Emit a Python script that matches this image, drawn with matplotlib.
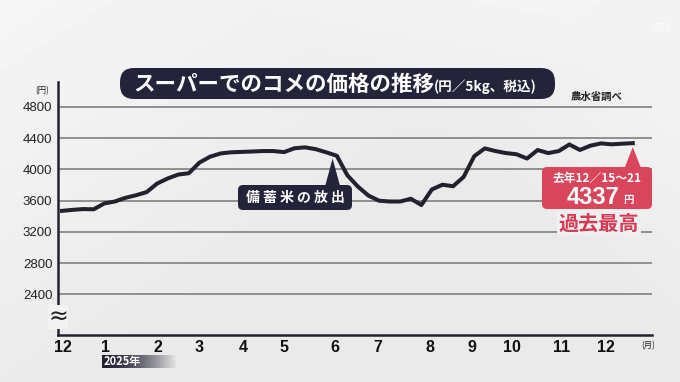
import numpy as np
import matplotlib.pyplot as plt
from matplotlib.patches import FancyBboxPatch, Polygon

plt.rcParams['font.family'] = ['Noto Sans CJK JP', 'DejaVu Sans']

# weekly supermarket rice price (yen / 5kg), Dec 2024 -> Dec 15-21 2025
weeks = list(range(55))
price = [3470, 3483, 3493, 3490, 3565, 3590, 3637, 3670, 3710, 3820,
         3885, 3935, 3952, 4088, 4163, 4205, 4220, 4225, 4230, 4236,
         4236, 4222, 4272, 4283, 4260, 4220, 4175, 3925, 3780, 3665,
         3600, 3590, 3590, 3625, 3545, 3745, 3805, 3785, 3905, 4170,
         4270, 4236, 4210, 4195, 4140, 4249, 4210, 4236, 4320, 4250,
         4305, 4334, 4322, 4330, 4337]
yticks = [2400, 2800, 3200, 3600, 4000, 4400, 4800]
month_labels = ['12', '1', '2', '3', '4', '5', '6', '7', '8', '9', '10', '11', '12']
month_pos = [0.1, 4.15, 9.1, 13.0, 17.1, 21.0, 25.8, 29.9, 34.8, 38.8, 42.6, 47.3, 51.5]
release_week = 25.6
last_week = weeks[-1]

W, H = 680, 382
fig = plt.figure(figsize=(W / 100, H / 100), dpi=100)

# light grey studio background
bg = fig.add_axes([0, 0, 1, 1], zorder=-10)
yy, xx = np.mgrid[0:H, 0:W]
shade = 0.915 + 0.05 * np.clip(1 - (xx + 1.6 * yy) / 700, 0, 1) \
        + 0.035 * np.clip((xx - 1.2 * yy - 250) / 300, 0, 1)
bg.imshow(shade, extent=[0, W, H, 0], cmap='gray', vmin=0, vmax=1, aspect='auto')
bg.axis('off')

dark = '#22222e'
ax = fig.add_axes([58 / W, 1 - 334.5 / H, (652 - 58) / W, (334.5 - 82) / H], zorder=1)
ax.patch.set_alpha(0)
ax.set_xlim(-0.38, 55.82)
ax.set_ylim(1887, 5120)
for y in yticks:
    ax.axhline(y, color='#808080', lw=1.2, zorder=1)
ax.plot(weeks, price, color=dark, lw=2.9, solid_joinstyle='round', zorder=3)

for s in ['top', 'right']:
    ax.spines[s].set_visible(False)
for s in ['left', 'bottom']:
    ax.spines[s].set_color(dark)
    ax.spines[s].set_linewidth(1.8)
ax.set_yticks(yticks)
ax.set_yticklabels([str(v) for v in yticks], family='Liberation Sans', fontsize=9.5, color='#222')
ax.set_xticks(month_pos)
ax.set_xticklabels(month_labels, family='Liberation Sans', fontsize=11.5, color='#111', weight='bold')
ax.tick_params(length=0)
ax.tick_params(axis='y', pad=4)
ax.tick_params(axis='x', pad=4)

# overlay in pixel coordinates
ov = fig.add_axes([0, 0, 1, 1], zorder=5)
ov.set_xlim(0, W)
ov.set_ylim(H, 0)
ov.axis('off')
ov.patch.set_alpha(0)


def to_px(xd, yd):
    X, Y = ax.transData.transform((xd, yd))
    return X, H - Y


# title box
ov.add_patch(FancyBboxPatch((120, 68), 435, 31, boxstyle='round,pad=0,rounding_size=14',
                            fc='#23233a', ec='none'))
ov.text(133, 84, 'スーパーでのコメの価格の推移', color='white', fontsize=15.5,
        weight='bold', va='center', ha='left')
ov.text(434, 87, '(円／5kg、税込)', color='white', fontsize=9.8, weight='bold',
        va='center', ha='left')
ov.text(597, 97, '農水省調べ', color='#222', fontsize=7.5, weight='bold', va='center', ha='center')
ov.text(42, 91, '(円)', color='#222', fontsize=6, va='center', ha='center')
ov.text(648, 346, '(月)', color='#222', fontsize=6, va='center', ha='center')

# axis break mark
ov.text(58, 317, '≈', color='#222', fontsize=17, va='center', ha='center', family='DejaVu Sans',
        bbox=dict(fc='#f2f2f2', ec='none', pad=0.3))

# 2025年 tag with fade
tag = fig.add_axes([102 / W, 1 - 368 / H, 76 / W, 13 / H], zorder=4)
fade = np.linspace(0, 1, 100)[None, :] ** 1.6
tag.imshow(np.dstack([0.13 + 0.8 * fade, 0.13 + 0.8 * fade, 0.2 + 0.73 * fade]),
           aspect='auto', extent=[0, 1, 0, 1])
tag.axis('off')
ov.text(104, 361.5, '2025年', color='white', fontsize=8, weight='bold', va='center', ha='left')

# stockpile rice callout
tx, ty = to_px(release_week, 4140)
ov.add_patch(Polygon([(tx, ty), (tx - 8, 188), (tx + 8, 188)], fc='#23233a', ec='none'))
ov.add_patch(FancyBboxPatch((238, 185), 114, 25, boxstyle='round,pad=0,rounding_size=5',
                            fc='#23233a', ec='none'))
ov.text(295, 197.5, '備 蓄 米 の 放 出', color='white', fontsize=10, weight='bold',
        va='center', ha='center')

# record high callout
red = '#d9455a'
ex, ey = to_px(last_week, price[-1])
ov.add_patch(Polygon([(ex, ey + 4), (ex - 9, 170), (ex + 9, 170)], fc=red, ec='none'))
ov.add_patch(FancyBboxPatch((542, 167), 110, 42, boxstyle='round,pad=0,rounding_size=5',
                            fc=red, ec='none'))
ov.text(597, 178.5, '去年12／15～21', color='white', fontsize=8.5, weight='bold',
        va='center', ha='center')
ov.text(593, 197, f'{price[-1]}', color='white', fontsize=17, weight='bold',
        va='center', ha='center', family='Liberation Sans')
ov.text(623, 200, '円', color='white', fontsize=7.5, weight='bold', va='center', ha='left')
ov.text(599, 223, '過去最高', color='#d63a55', fontsize=14.5, weight='bold',
        va='center', ha='center', bbox=dict(fc='#f0f0f0', ec='none', pad=1))

# faint broadcaster mark
ov.text(652, 28, 'SBS', color='white', fontsize=8, alpha=0.8, va='center', ha='left')

fig.savefig('out.png', dpi=100)
